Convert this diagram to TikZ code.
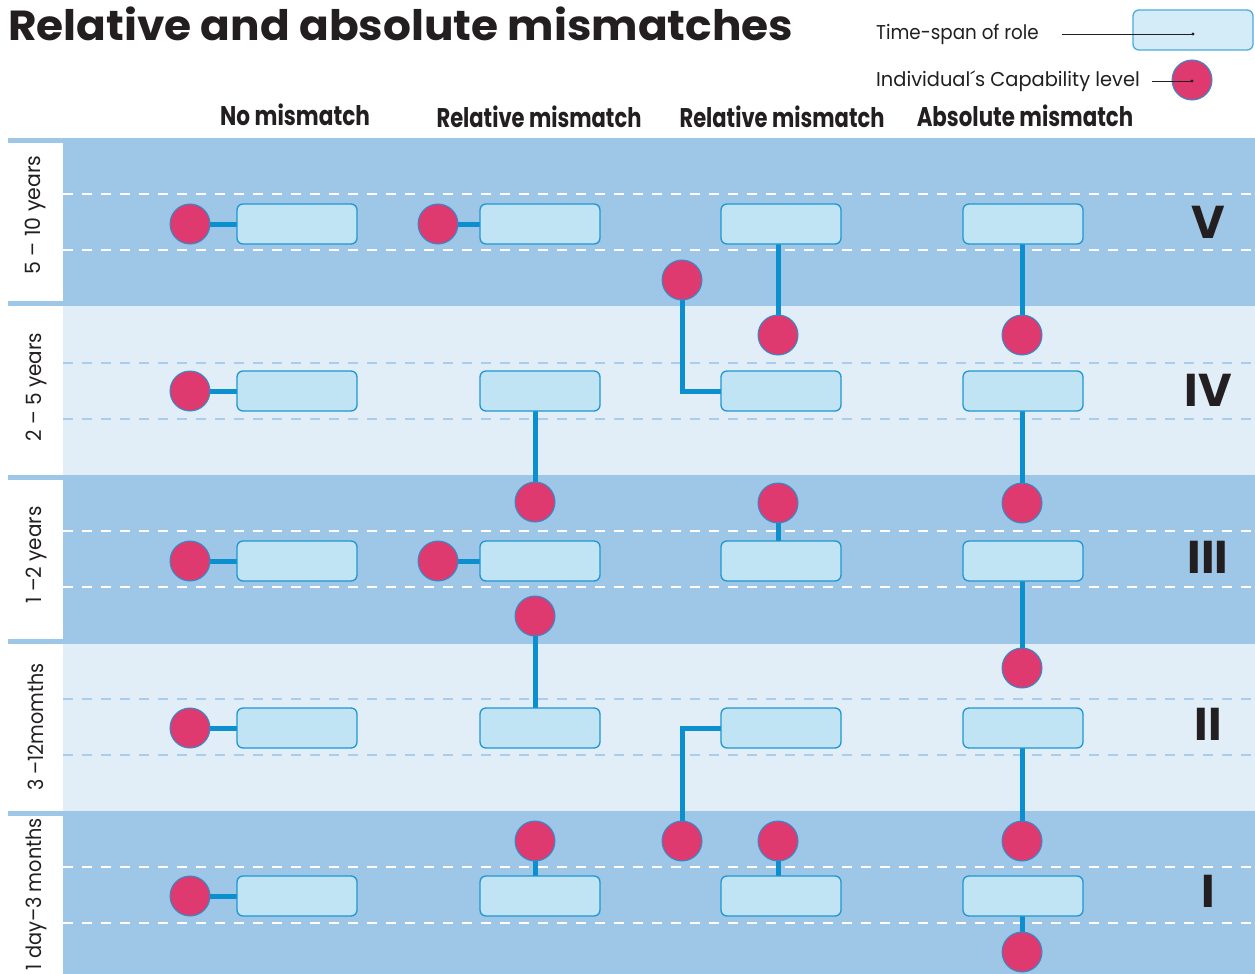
\documentclass[tikz,border=0pt]{standalone}
\usepackage{fontspec}
\setmainfont{Poppins}
\pgfdeclarelayer{bg}\pgfdeclarelayer{mid}\pgfsetlayers{bg,mid,main}
\definecolor{darkband}{HTML}{9DC6E7}
\definecolor{lightband}{HTML}{E1EEF8}
\definecolor{boxfill}{HTML}{C0E4F3}
\definecolor{boxline}{HTML}{2096D2}
\definecolor{circfill}{HTML}{DE3A70}
\definecolor{circline}{HTML}{2A8FCC}
\definecolor{linkc}{HTML}{0B8FCE}
\definecolor{lightdash}{HTML}{AACDEB}
\definecolor{ink}{HTML}{231F20}
\begin{document}
\begin{tikzpicture}[x=1pt,y=-1pt,
  role/.style={draw=boxline,fill=boxfill,rounded corners=6pt,line width=1.3pt,minimum width=120pt,minimum height=40pt,inner sep=0pt},
  capdot/.style={circle,draw=circline,fill=circfill,line width=1pt,minimum size=40pt,inner sep=0pt},
  link/.style={draw=linkc,line width=5pt},
  hdr/.style={font=\fontsize{27}{27}\selectfont\bfseries,text=ink,anchor=base,inner sep=0pt},
  yr/.style={font=\fontsize{21}{21}\selectfont,text=ink,rotate=90,anchor=center,inner sep=0pt},
  roman/.style={font=\fontsize{46}{46}\selectfont\bfseries,text=ink,anchor=center,inner sep=0pt},
  leg/.style={font=\fontsize{20}{20}\selectfont,text=ink,anchor=base west,inner sep=0pt},
  wdash/.style={draw=white,line width=1.8pt,dash pattern=on 9.5pt off 9.5pt},
  ldash/.style={draw=lightdash,line width=1.8pt,dash pattern=on 9.5pt off 9.5pt},
  legline/.style={draw=ink,line width=0.9pt}]
\useasboundingbox (0,0) rectangle (1255,974);
\begin{pgfonlayer}{bg}
\fill[white] (0,0) rectangle (1255,974);
\fill[darkband] (8,138) rectangle (1255,306);
\fill[lightband] (63,306) rectangle (1255,475);
\fill[darkband] (8,475) rectangle (1255,644);
\fill[lightband] (63,644) rectangle (1255,811);
\fill[darkband] (8,811) rectangle (1255,974);
\fill[white] (8,143) rectangle (63,301);
\fill[white] (8,480) rectangle (63,639);
\fill[white] (8,816) rectangle (63,974);
\foreach \y in {194,250,531,587,867,923} \draw[wdash] (63,\y) -- (1255,\y);
\foreach \y in {363,419,699,755} \draw[ldash] (63,\y) -- (1255,\y);
\end{pgfonlayer}

% title and legend
\node[font=\fontsize{42}{42}\selectfont\bfseries,text=ink,anchor=base west,inner sep=0pt] (title) at (8,41) {\scalebox{1.044}[1]{Relative and absolute mismatches}};
\node[leg] (legt1) at (876,40) {\scalebox{0.915}[1]{Time-span of role}};
\node[leg] (legt2) at (876,86) {\scalebox{0.97}[1]{Individual´s Capability level}};
\node[role,draw=boxline!80,fill=boxfill!70!white] (legbox) at (1193,30) {};
\node[capdot] (legcirc) at (1192,80) {};
\coordinate (l1s) at (1062,34);
\coordinate (l2s) at (1152,81);
\draw[legline] (l1s) -- (legbox.center |- l1s);
\fill[ink] (legbox.center |- l1s) circle (1.6pt);
\draw[legline] (l2s) -- (legcirc.center |- l2s);
\fill[ink] (legcirc.center |- l2s) circle (1.6pt);

% column headers
\node[hdr] (h1) at (295,125) {\scalebox{0.8}[1]{No mismatch}};
\node[hdr] (h2) at (539,127) {\scalebox{0.78}[1]{Relative mismatch}};
\node[hdr] (h3) at (782,127) {\scalebox{0.78}[1]{Relative mismatch}};
\node[hdr] (h4) at (1025,126) {\scalebox{0.79}[1]{Absolute mismatch}};

% row labels
\node[yr] (y5) at (36,215) {\scalebox{0.975}[1]{5 – 10 years}};
\node[yr] (y4) at (36,387) {\scalebox{0.95}[1]{2 – 5 years}};
\node[yr] (y3) at (36,555) {\scalebox{0.95}[1]{1 –2 years}};
\node[yr] (y2) at (36,727) {\scalebox{0.91}[1]{3 –12momths}};
\node[yr] (y1) at (36,894) {\scalebox{0.92}[1]{1 day–3 months}};

\node[roman] (rV) at (1208,222) {V};
\node[roman] (rIV) at (1208,390) {IV};
\node[roman] (rIII) at (1208,557) {III};
\node[roman] (rII) at (1208,724) {II};
\node[roman] (rI) at (1208,891) {I};

% boxes
\foreach \r/\y in {V/224,IV/391,III/561,II/728,I/896}{
  \node[role] (a\r) at (297,\y) {};
  \node[role] (b\r) at (540,\y) {};
  \node[role] (c\r) at (781,\y) {};
  \node[role] (d\r) at (1023,\y) {};
  \node[capdot] (pa\r) at (190,\y) {};
}
% circles
\node[capdot] (pbV) at (438,224) {};
\node[capdot] (pbIV) at (535,502) {};
\node[capdot] (pbIII) at (438,561) {};
\node[capdot] (pbII) at (535,616) {};
\node[capdot] (pbI) at (535,841) {};
\node[capdot] (pcA) at (682,280) {};
\node[capdot] (pcV) at (778,335) {};
\node[capdot] (pcIII) at (778,503) {};
\node[capdot] (pcB) at (682,841) {};
\node[capdot] (pcI) at (778,841) {};
\node[capdot] (pdV) at (1022,335) {};
\node[capdot] (pdIV) at (1022,503) {};
\node[capdot] (pdIII) at (1022,668) {};
\node[capdot] (pdII) at (1022,841) {};
\node[capdot] (pdI) at (1022,952) {};

\begin{pgfonlayer}{mid}
\foreach \r in {V,IV,III,II,I} \draw[link] (pa\r.center) -- (a\r.center);
\draw[link] (pbV.center) -- (bV.center);
\draw[link] (pbIII.center) -- (bIII.center);
\draw[link] (pbIV.center |- bIV.center) -- (pbIV.center);
\draw[link] (pbII.center) -- (pbII.center |- bII.center);
\draw[link] (pbI.center) -- (pbI.center |- bI.center);
\draw[link] (pcV.center |- cV.center) -- (pcV.center);
\draw[link] (pcA.center) |- (cIV.center);
\draw[link] (pcIII.center) -- (pcIII.center |- cIII.center);
\draw[link] (cII.center) -| (pcB.center);
\draw[link] (pcI.center) -- (pcI.center |- cI.center);
\draw[link] (pdV.center |- dV.center) -- (pdV.center);
\draw[link] (pdIV.center |- dIV.center) -- (pdIV.center);
\draw[link] (pdIII.center |- dIII.center) -- (pdIII.center);
\draw[link] (pdII.center |- dII.center) -- (pdII.center);
\draw[link] (pdI.center |- dI.center) -- (pdI.center);
\end{pgfonlayer}
\end{tikzpicture}
\end{document}
